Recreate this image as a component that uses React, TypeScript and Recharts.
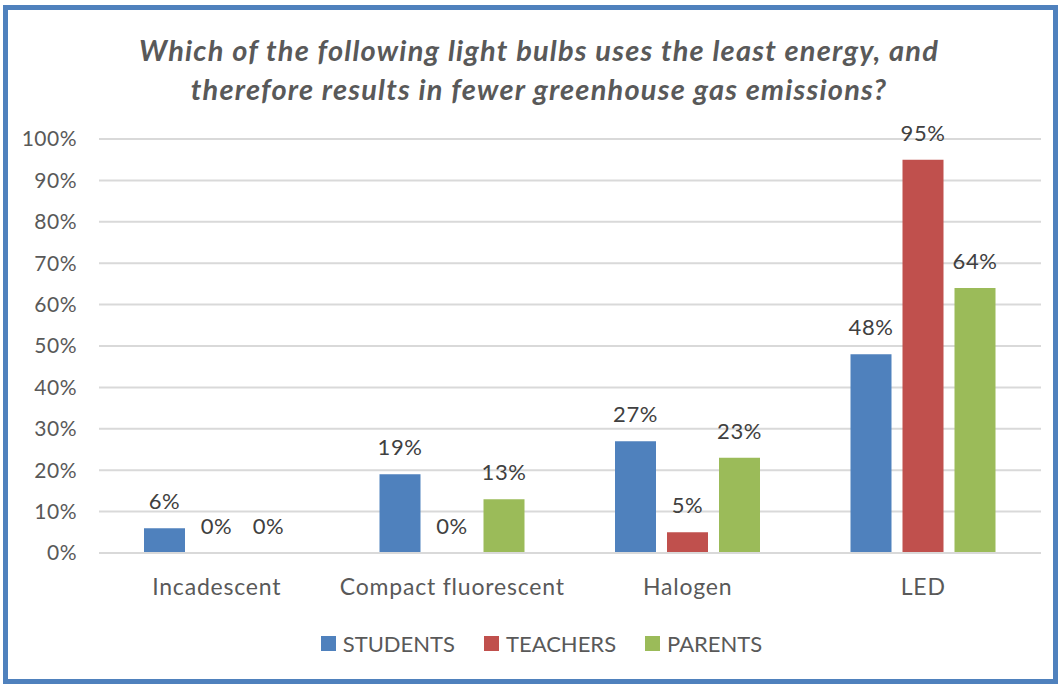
import React from "react";
import { BarChart, Bar, XAxis, YAxis, CartesianGrid, LabelList } from "recharts";

const categories = ["Incadescent", "Compact fluorescent", "Halogen", "LED"];
const students = [6, 19, 27, 48];
const teachers = [0, 0, 5, 95];
const parents = [0, 13, 23, 64];
const yTicks = [0, 10, 20, 30, 40, 50, 60, 70, 80, 90, 100];

const seriesNames = ["STUDENTS", "TEACHERS", "PARENTS"];
const colors = ["#4F81BD", "#C0504D", "#9BBB59"];

const data = categories.map((c, i) => ({
  name: c,
  STUDENTS: students[i],
  TEACHERS: teachers[i],
  PARENTS: parents[i],
}));

const FONT = "Lato, 'Open Sans', sans-serif";
const TXT = "#595959";

const renderLabel = (props: any) => {
  const { x, y, width, value } = props;
  if (value === undefined || value === null) return null;
  return (
    <text
      x={Number(x) + Number(width) / 2}
      y={Number(y) - 19}
      textAnchor="middle"
      fill="#404040"
      fontSize={22}
      fontFamily={FONT}
      style={{ letterSpacing: "0.6px" }}
    >
      {`${value}%`}
    </text>
  );
};

export default function App() {
  return (
    <div
      style={{
        position: "absolute",
        left: 0,
        top: 0,
        width: 1061,
        height: 684,
        background: "#fff",
        fontFamily: FONT,
        overflow: "hidden",
      }}
    >
      <div
        style={{
          position: "absolute",
          left: 3,
          top: 5,
          width: 1055,
          height: 679,
          border: "5px solid #4F81BD",
          boxSizing: "border-box",
        }}
      />
      <div
        style={{
          position: "absolute",
          left: 20,
          top: 30,
          width: 1038,
          textAlign: "center",
          fontSize: 29,
          letterSpacing: "1.2px",
          lineHeight: "39px",
          fontWeight: 700,
          fontStyle: "italic",
          color: TXT,
        }}
      >
        Which of the following light bulbs uses the least energy, and
        <br />
        therefore results in fewer greenhouse gas emissions?
      </div>
      <div style={{ position: "absolute", left: 0, top: 0 }}>
        <BarChart
          width={1061}
          height={684}
          data={data}
          margin={{ top: 139, right: 20, left: 0, bottom: 0 }}
          barSize={41}
          barGap={11}
        >
          <CartesianGrid vertical={false} stroke="#D9D9D9" strokeWidth={2} />
          <XAxis
            dataKey="name"
            height={131}
            tickLine={false}
            axisLine={{ stroke: "#D9D9D9", strokeWidth: 2 }}
            tickSize={0}
            tickMargin={26}
            tick={{ fill: TXT, fontSize: 23, fontFamily: FONT, style: { letterSpacing: "0.8px" } }}
          />
          <YAxis
            width={99}
            domain={[0, 100]}
            ticks={yTicks}
            interval={0}
            tickFormatter={(v) => `${v}%`}
            axisLine={false}
            tickLine={false}
            tickSize={0}
            tickMargin={22}
            tick={{ fill: TXT, fontSize: 21, fontFamily: FONT, style: { letterSpacing: "0.5px" } }}
          />
          {seriesNames.map((s, i) => (
            <Bar
              key={s}
              dataKey={s}
              fill={colors[i]}
              isAnimationActive={false}
              minPointSize={(v: number) => (v === 0 ? 0.01 : 0)}
            >
              <LabelList dataKey={s} content={renderLabel} />
            </Bar>
          ))}
        </BarChart>
      </div>
      <div
        style={{
          position: "absolute",
          left: 0,
          top: 630,
          width: 1061,
          display: "flex",
          justifyContent: "center",
          alignItems: "center",
          fontSize: 22,
          color: TXT,
          paddingLeft: 22,
          boxSizing: "border-box",
        }}
      >
        {seriesNames.map((s, i) => (
          <div key={s} style={{ display: "flex", alignItems: "center", marginRight: i < 2 ? 29 : 0 }}>
            <span style={{ display: "inline-block", width: 15, height: 15, background: colors[i], marginRight: 7 }} />
            <span>{s}</span>
          </div>
        ))}
      </div>
    </div>
  );
}
